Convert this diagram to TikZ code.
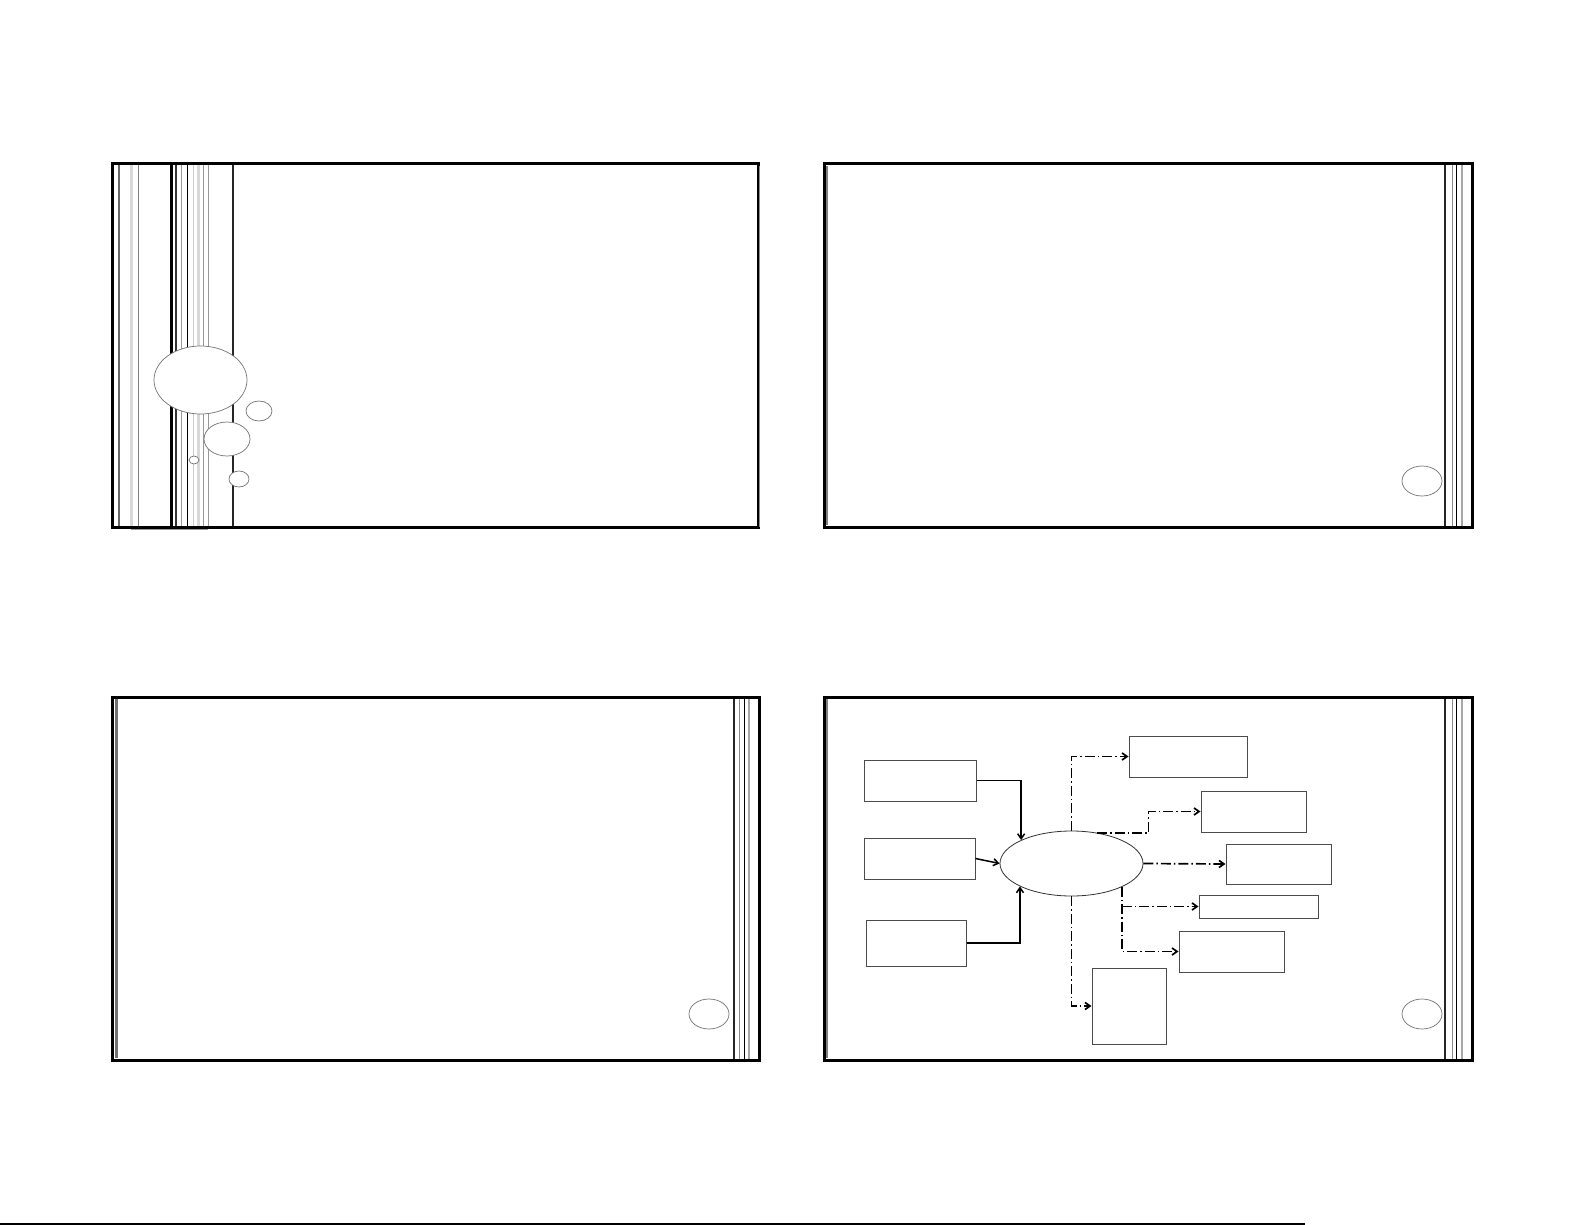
\documentclass[tikz,border=0pt]{standalone}
\usetikzlibrary{arrows.meta,shapes.geometric}
\begin{document}
\begin{tikzpicture}[x=1pt,y=-1pt,
  frame/.style={draw=black,line width=3pt},
  dotline/.style={draw=black!85,line width=2.5pt},
  greydot/.style={draw=black!35,line width=1.2pt},
  bubble/.style={draw=black!55,line width=0.7pt,fill=white},
  pagenum/.style={ellipse,draw=black!55,line width=0.7pt,minimum width=40pt,minimum height=30pt,inner sep=0pt},
  box/.style={rectangle,draw=black!70,line width=1pt,inner sep=0pt},
  hub/.style={ellipse,draw=black!80,line width=0.8pt,inner sep=0pt,minimum width=143pt,minimum height=65pt},
  feedarrow/.style={draw=black,line width=1.5pt,-{Straight Barb[length=5pt,width=7pt]}},
  outarrow/.style={draw=black,line width=1.7pt,dash pattern=on 10pt off 3pt on 1.5pt off 3pt,-{Straight Barb[length=5pt,width=7pt]}}
]
\useasboundingbox (0,0) rectangle (1585,1225);
\fill[white] (0,0) rectangle (1585,1225);

% ---------------- slide 1 ----------------
\draw[black!60,line width=2pt] (119,164) -- (119,527);
\draw[black!15,line width=3pt] (131,164) -- (131,527);
\draw[black!50,line width=1pt] (138,164) -- (138,527);
\draw[black,line width=3pt] (171,164) -- (171,527);
\draw[black!80,line width=2.5pt] (176,164) -- (176,527);
\draw[black!40,line width=1pt] (181,164) -- (181,527);
\draw[black,line width=1pt] (187,164) -- (187,527);
\draw[black!20,line width=1pt] (193,164) -- (193,527);
\draw[black!15,line width=3pt] (198,164) -- (198,527);
\draw[black!40,line width=1pt] (203,164) -- (203,527);
\draw[black!40,line width=1pt] (208,164) -- (208,527);
\draw[dotline] (233,164) -- (233,527);
\draw[black!40,line width=1.2pt] (131,529) -- (208,529);
\draw[frame] (112,164) rectangle (758,527);
\draw[black!45,line width=1pt] (759.5,166) -- (759.5,527);
\path[bubble] (200.5,380) ellipse [x radius=46.5,y radius=34];
\path[bubble] (259,411) ellipse [x radius=13,y radius=10];
\path[bubble] (227,439) ellipse [x radius=23,y radius=17];
\path[bubble] (194,460) ellipse [x radius=5,y radius=4];
\path[bubble] (239,479) ellipse [x radius=10,y radius=8];

% ---------------- slide 2 ----------------
\draw[black!50,line width=1.5pt] (827,166) -- (827,525);
\draw[dotline] (1445,164) -- (1445,527);
\draw[black!45,line width=1pt] (1452,164) -- (1452,527);
\draw[black,line width=1pt] (1456,164) -- (1456,527);
\draw[greydot] (1462,164) -- (1462,527);
\draw[frame] (824,164) rectangle (1472,527);
\node[pagenum] (p2) at (1422,481) {};

% ---------------- slide 3 ----------------
\draw[black!55,line width=3pt] (116,699) -- (116,1058);
\draw[dotline] (734,697) -- (734,1060);
\draw[black!45,line width=1pt] (739,697) -- (739,1060);
\draw[black,line width=1pt] (744,697) -- (744,1060);
\draw[greydot] (749,697) -- (749,1060);
\draw[frame] (112,697) rectangle (759,1060);
\node[pagenum] (p3) at (709,1014) {};

% ---------------- slide 4 ----------------
\draw[black!50,line width=1.5pt] (827,699) -- (827,1058);
\draw[dotline] (1445,697) -- (1445,1060);
\draw[black!45,line width=1pt] (1452,697) -- (1452,1060);
\draw[black,line width=1pt] (1456,697) -- (1456,1060);
\draw[greydot] (1462,697) -- (1462,1060);
\draw[frame] (824,697) rectangle (1472,1060);
\node[pagenum] (p4) at (1422,1014) {};

\node[box,minimum width=112pt,minimum height=41pt] (a1) at (920,780.5) {};
\node[box,minimum width=111pt,minimum height=41pt] (a2) at (919.5,858.5) {};
\node[box,minimum width=100pt,minimum height=46pt] (a3) at (916,943) {};
\node[hub] (e) at (1071.5,863.5) {};
\node[box,minimum width=118pt,minimum height=41pt] (b1) at (1188,756.5) {};
\node[box,minimum width=105pt,minimum height=41pt] (b2) at (1253.5,811.5) {};
\node[box,minimum width=105pt,minimum height=40pt] (b3) at (1278.5,864) {};
\node[box,minimum width=119pt,minimum height=23pt] (b4) at (1258.5,906.5) {};
\node[box,minimum width=105pt,minimum height=41pt] (b5) at (1231.5,951.5) {};
\node[box,minimum width=74pt,minimum height=76pt] (b6) at (1129,1006) {};

\draw[feedarrow] (a1.east) -| (e.155.5);
\draw[feedarrow] (a2.east) -- (e.west);
\draw[feedarrow] (a3.east) -| (e.204.5);

\draw[outarrow] (e.north) |- (b1.west);
\draw[outarrow] (e.50) -| ([xshift=-52pt]b2.west) -- (b2.west);
\draw[outarrow] (e.east) -- (b3.west);
\draw[outarrow] (e.335.5) |- (b5.west);
\draw[outarrow] (e.335.5 |- b4.west) -- (b4.west);
\draw[outarrow] (e.south) |- (b6.west);

% bottom rule
\draw[black,line width=2pt] (0,1224) -- (1305,1224);
\end{tikzpicture}
\end{document}
